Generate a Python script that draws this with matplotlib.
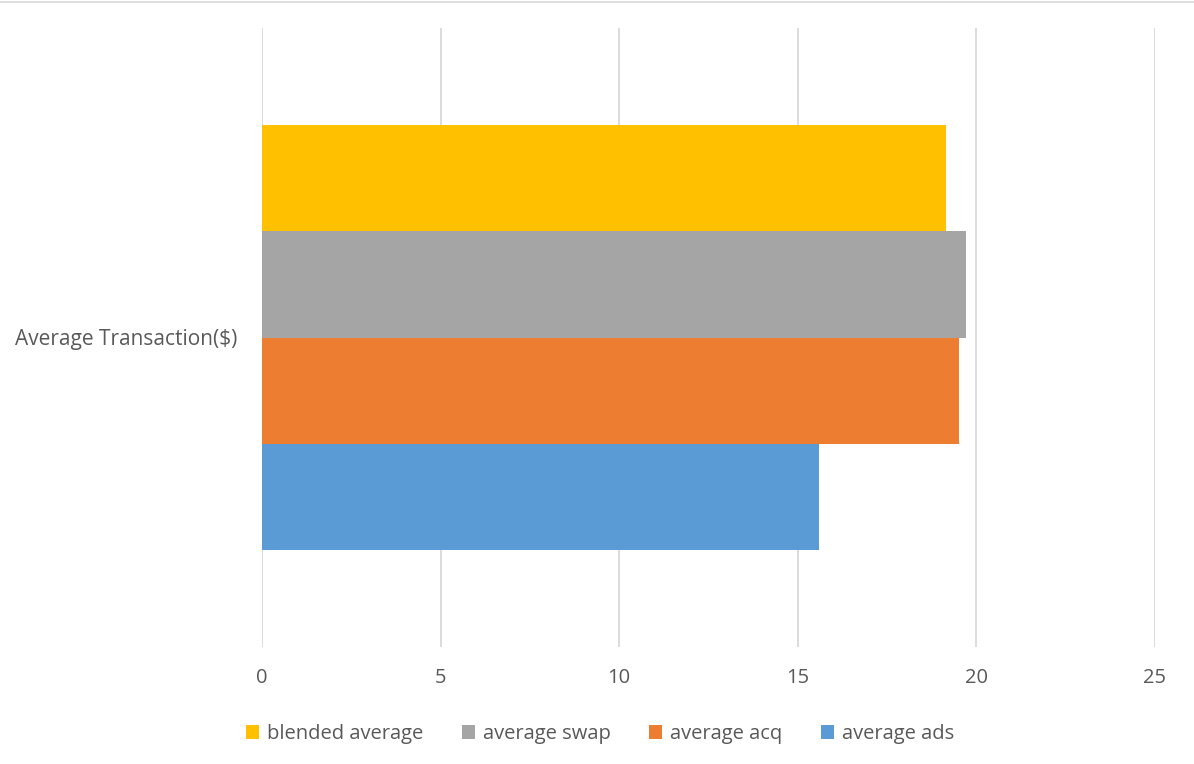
import matplotlib
matplotlib.use("Agg")
import matplotlib.pyplot as plt
from matplotlib.lines import Line2D

category = "Average Transaction($)"
series_names = ["blended average", "average swap", "average acq", "average ads"]
series_values = [19.15, 19.72, 19.52, 15.60]
colors = ["#FFC000", "#A5A5A5", "#ED7D31", "#5B9BD5"]
xticks = [0, 5, 10, 15, 20, 25]

plt.rcParams['font.family'] = ['Open Sans', 'DejaVu Sans']

fig = plt.figure(figsize=(11.94, 7.64), dpi=100)
ax = fig.add_axes([262/1194, 117/764, (1155-262)/1194, (647-28)/764])

n = len(series_values)
group = 0.685
h = group / n
for i, (name, v, c) in enumerate(zip(series_names, series_values, colors)):
    y = group/2 - h/2 - i*h
    ax.barh(y, v, height=h, color=c, label=name, zorder=3)

ax.set_xlim(0, 25)
ax.set_ylim(-0.5, 0.5)
ax.set_xticks(xticks)
ax.set_xticklabels([str(t) for t in xticks], fontsize=14.5, color="#595959")
ax.set_yticks([0])
ax.set_yticklabels([category], fontsize=15, color="#595959")
ax.tick_params(axis='both', length=0)
ax.tick_params(axis='x', pad=15)
ax.tick_params(axis='y', pad=17.5)
ax.grid(axis='x', color="#D9D9D9", linewidth=1.3, zorder=0)
for s in ax.spines.values():
    s.set_visible(False)

leg = fig.legend(loc='center', bbox_to_anchor=(600/1194, 1 - 734/764), ncol=4,
                 frameon=False, fontsize=14.5, handlelength=0.65, handleheight=0.65,
                 handletextpad=0.4, columnspacing=1.9, labelcolor="#595959")

fig.add_artist(Line2D([0, 1], [1 - 1.5/764, 1 - 1.5/764], transform=fig.transFigure,
                      color="#D9D9D9", linewidth=1.2))

fig.savefig("out.png", dpi=100)
